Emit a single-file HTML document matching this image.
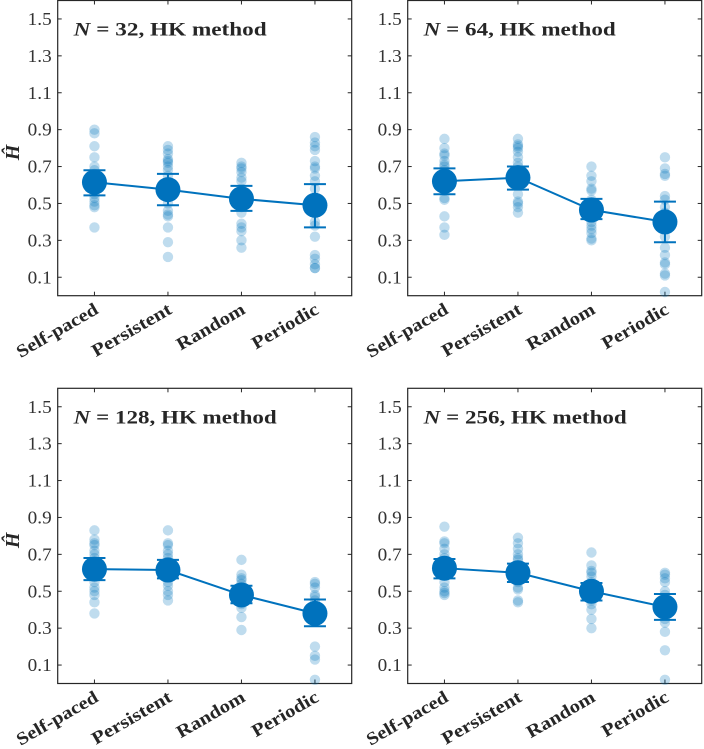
<!DOCTYPE html>
<html><head><meta charset="utf-8"><style>
html,body{margin:0;padding:0;background:#fff;}
svg{display:block;font-family:"Liberation Serif",serif;}
</style></head><body>
<svg id="fig" width="704" height="749" viewBox="0 0 704 749" xmlns="http://www.w3.org/2000/svg"></svg>
<script>
const categories = ["Self-paced","Persistent","Random","Periodic"];
const yTicks = [0.1,0.3,0.5,0.7,0.9,1.1,1.3,1.5];
const titles = ["32","64","128","256"];
const means32 = [0.615,0.575,0.525,0.49];
const errHi32 = [0.68,0.66,0.595,0.605];
const errLo32 = [0.544,0.49,0.46,0.37];
const pts32 = [
 [0.9,0.88,0.81,0.75,0.7,0.68,0.66,0.62,0.6,0.58,0.55,0.53,0.51,0.49,0.48,0.37],
 [0.81,0.79,0.77,0.74,0.73,0.72,0.7,0.68,0.65,0.6,0.55,0.5,0.46,0.44,0.43,0.37,0.29,0.21],
 [0.72,0.7,0.69,0.67,0.64,0.62,0.58,0.55,0.5,0.48,0.45,0.39,0.37,0.35,0.3,0.26],
 [0.86,0.83,0.81,0.79,0.73,0.7,0.69,0.65,0.62,0.58,0.5,0.45,0.4,0.38,0.32,0.22,0.2,0.17,0.15,0.15]];
const means64 = [0.62,0.64,0.465,0.4];
const errHi64 = [0.69,0.70,0.525,0.51];
const errLo64 = [0.55,0.575,0.415,0.29];
const pts64 = [
 [0.85,0.8,0.77,0.76,0.73,0.71,0.7,0.68,0.64,0.6,0.57,0.53,0.52,0.43,0.37,0.33],
 [0.85,0.82,0.81,0.8,0.78,0.75,0.72,0.7,0.68,0.62,0.6,0.55,0.51,0.5,0.48,0.45],
 [0.7,0.65,0.62,0.58,0.57,0.52,0.48,0.45,0.42,0.4,0.38,0.36,0.34,0.31,0.3],
 [0.75,0.69,0.66,0.65,0.54,0.52,0.48,0.45,0.42,0.32,0.26,0.22,0.18,0.17,0.12,0.11,0.02]];
const means128 = [0.62,0.615,0.48,0.38];
const errHi128 = [0.68,0.67,0.53,0.455];
const errLo128 = [0.56,0.57,0.435,0.31];
const pts128 = [
 [0.83,0.78,0.76,0.75,0.72,0.7,0.68,0.65,0.6,0.55,0.52,0.5,0.48,0.44,0.38],
 [0.83,0.76,0.75,0.72,0.7,0.68,0.66,0.6,0.58,0.55,0.53,0.5,0.48,0.45],
 [0.67,0.59,0.57,0.56,0.54,0.52,0.5,0.47,0.45,0.43,0.41,0.36,0.29],
 [0.55,0.54,0.52,0.48,0.47,0.45,0.2,0.15,0.13,0.02]];
const means256 = [0.625,0.6,0.5,0.415];
const errHi256 = [0.675,0.65,0.545,0.485];
const errLo256 = [0.57,0.55,0.45,0.345];
const pts256 = [
 [0.85,0.77,0.76,0.73,0.7,0.68,0.66,0.6,0.55,0.52,0.5,0.49,0.48],
 [0.79,0.76,0.73,0.7,0.68,0.67,0.64,0.58,0.55,0.52,0.51,0.45,0.44],
 [0.71,0.64,0.61,0.6,0.58,0.55,0.52,0.47,0.45,0.43,0.4,0.35,0.3],
 [0.6,0.59,0.57,0.55,0.5,0.48,0.45,0.38,0.35,0.33,0.28,0.18,0.02]];

const panels = [
 {L:57.7,T:0.5,title:titles[0],means:means32,hi:errHi32,lo:errLo32,pts:pts32,ylab:true,tw:193},
 {L:407.7,T:0.5,title:titles[1],means:means64,hi:errHi64,lo:errLo64,pts:pts64,ylab:false,tw:192},
 {L:57.7,T:388.3,title:titles[2],means:means128,hi:errHi128,lo:errLo128,pts:pts128,ylab:true,tw:203},
 {L:407.7,T:388.3,title:titles[3],means:means256,hi:errHi256,lo:errLo256,pts:pts256,ylab:false,tw:203}];
const labelW=[91,89,76,74];
const W=294, H=295.2, C="#0072BD";
const svg=document.getElementById('fig');
const NS="http://www.w3.org/2000/svg";
function mk(tag,attrs,parent){const e=document.createElementNS(NS,tag);for(const k in attrs)e.setAttribute(k,attrs[k]);(parent||svg).appendChild(e);return e;}

panels.forEach((p,pi)=>{
  const g=mk('g',{});
  
  
  const x=i=>p.L+(i+0.5)/4*W;
  const y=v=>p.T+H-(v/1.6)*H;
  const box=mk('rect',{x:p.L,y:p.T,width:W,height:H,fill:'none',stroke:'#262626','stroke-width':1.2},g);
  
  
  yTicks.forEach(t=>{
    mk('line',{x1:p.L,x2:p.L+4,y1:y(t),y2:y(t),stroke:'#262626'},g);
    mk('line',{x1:p.L+W-4,x2:p.L+W,y1:y(t),y2:y(t),stroke:'#262626'},g);
    const tl=mk('text',{x:p.L-6,y:y(t)+6,'text-anchor':'end','font-size':18,fill:'#333',textLength:24,lengthAdjust:'spacingAndGlyphs'},g);
    tl.textContent=t.toFixed(1);
    
    
  });
  categories.forEach((c,i)=>{
    mk('line',{x1:x(i),x2:x(i),y1:p.T+H,y2:p.T+H-4,stroke:'#262626'},g);
    mk('line',{x1:x(i),x2:x(i),y1:p.T,y2:p.T+4,stroke:'#262626'},g);
    const tx=x(i)+5, ty=p.T+H+17;
    const g2=mk('g',{transform:`translate(${tx} ${ty}) rotate(-30)`},g);
    const xl=mk('text',{x:0,y:0,'text-anchor':'end','font-size':18,'font-weight':'bold',fill:'#262626',textLength:labelW[i],lengthAdjust:'spacingAndGlyphs'},g2);
    xl.textContent=c;
    
    
  });
  p.pts.forEach((arr,i)=>{arr.forEach(v=>{
    const d=mk('circle',{cx:x(i),cy:y(v),r:5.2,fill:C,'fill-opacity':0.25},g);
    
    
  });});
  const ln=mk('polyline',{points:p.means.map((m,i)=>x(i)+','+y(m)).join(' '),fill:'none',stroke:C,'stroke-width':2},g);
  
  
  p.means.forEach((m,i)=>{
    const eb=mk('path',{d:`M${x(i)},${y(p.hi[i])}V${y(p.lo[i])}M${x(i)-11},${y(p.hi[i])}H${x(i)+11}M${x(i)-11},${y(p.lo[i])}H${x(i)+11}`,stroke:C,'stroke-width':2,fill:'none'},g);
    
    
    const mc=mk('circle',{cx:x(i),cy:y(m),r:12.5,fill:C},g);
    
    
  });
  const tt=mk('text',{x:p.L+16,y:p.T+35,'font-size':19,'font-weight':'bold',fill:'#262626',textLength:p.tw,lengthAdjust:'spacingAndGlyphs'},g);
  tt.innerHTML='<tspan font-style="italic">N</tspan> = '+p.title+',  HK method';
  
  
  if(p.ylab){
    const yl=mk('text',{x:0,y:0,'font-size':20,'font-weight':'bold','font-style':'italic',fill:'#262626','text-anchor':'middle',transform:`translate(19 ${p.T+152}) rotate(-90)`},g);
    yl.textContent='Ĥ';
    
    
  }
});
</script>
</body></html>
